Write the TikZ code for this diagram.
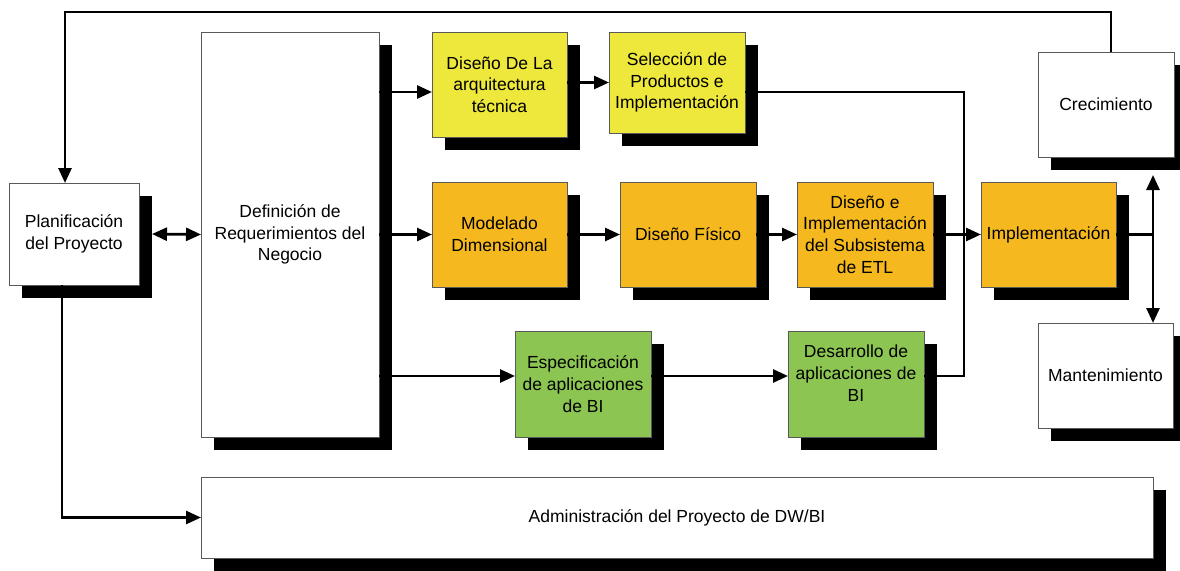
\documentclass[tikz,border=0pt]{standalone}
\usepackage{fontspec}
\setmainfont{Liberation Sans}
\usetikzlibrary{arrows.meta,shadows}
\definecolor{cyel}{RGB}{237,232,59}
\definecolor{corg}{RGB}{245,185,31}
\definecolor{cgrn}{RGB}{140,197,82}
\tikzset{
  box/.style={draw=black!65, line width=0.8pt, inner sep=0pt, outer sep=0pt,
    align=center, font=\fontsize{17.5}{21.7}\selectfont,
    drop shadow={shadow xshift=13pt, shadow yshift=-13pt, fill=black, opacity=1}},
  conn/.style={line width=2.7pt, black, >={Triangle[length=15pt,width=13pt]}},
}
\begin{document}
\begin{tikzpicture}[x=1pt,y=-1pt]
\useasboundingbox (0,0) rectangle (1180,570);
% boxes
\node[box, fill=white, minimum width=130pt, minimum height=102pt] (pla) at (74,234) {Planificación\\del Proyecto};
\node[box, fill=white, minimum width=178pt, minimum height=405pt] (def) at (290,234.5) {Definición de\\Requerimientos del\\Negocio};
\node[box, fill=cyel, minimum width=135pt, minimum height=105pt] (arq) at (499.5,84.5) {Diseño De La\\arquitectura\\técnica};
\node[box, fill=cyel, minimum width=136pt, minimum height=101pt] (sel) at (677,82.5) {Selección de\\Productos e\\Implementación};
\node[box, fill=corg, minimum width=135pt, minimum height=105pt] (mod) at (499.5,234.5) {Modelado\\Dimensional};
\node[box, fill=corg, minimum width=136pt, minimum height=105pt] (fis) at (688,234.5) {Diseño Físico};
\node[box, fill=corg, minimum width=136pt, minimum height=105pt] (etl) at (865,234.5) {Diseño e\\Implementación\\del Subsistema\\de ETL};
\node[box, fill=corg, minimum width=135pt, minimum height=105pt] (imp) at (1048.5,234.5) {Implementación};
\node[box, fill=white, minimum width=136pt, minimum height=105pt] (cre) at (1106,104.5) {Crecimiento};
\node[box, fill=white, minimum width=135pt, minimum height=105pt] (man) at (1105.5,375.5) {Mantenimiento};
\node[box, fill=cgrn, minimum width=136pt, minimum height=106pt] (esp) at (583,384) {Especificación\\de aplicaciones\\de BI};
\node[box, fill=cgrn, minimum width=136pt, minimum height=106pt] (des) at (856,384) {Desarrollo de\\aplicaciones de\\BI\\\mbox{}};
\node[box, fill=white, minimum width=952pt, minimum height=81pt] (adm) at (677,517.5) {Administración del Proyecto de DW/BI};
% helper coordinates
\coordinate (a1) at ([yshift=-7.5pt]arq.west);
\coordinate (a3) at ([yshift=8pt]esp.west);
\coordinate (top) at (0,12);
\coordinate (pn) at ([xshift=-9pt]pla.north);
\coordinate (jn) at (964,376);
\coordinate (v) at (1153,234.5);
\coordinate (vt0) at (cre.south -| v);
\coordinate (vt) at ([yshift=-18pt]vt0);
% connectors
\draw[conn,->] ([xshift=5pt]cre.north) |- (top -| pn) -- (pn);
\draw[conn,->] ([xshift=-12pt]pla.south) |- (adm.west);
\draw[conn,<->] ([xshift=13pt]pla.east) -- (def.west);
\draw[conn,->] (def.east |- a1) -- (a1);
\draw[conn,->] (def.east |- mod.west) -- (mod.west);
\draw[conn,->] (def.east |- a3) -- (a3);
\draw[conn,->] (arq.east |- sel.west) -- (sel.west);
\draw[conn,->] (mod.east) -- (fis.west);
\draw[conn,->] (fis.east) -- (etl.west);
\draw[conn,->] (esp.east |- a3) -- (des.west |- a3);
\draw[conn] ([yshift=-9.5pt]sel.east) -| (jn) -- (des.east |- jn);
\draw[conn,->] (etl.east) -- (imp.west);
\draw[conn] (imp.east) -- (v);
\draw[conn,->] (v) -- (vt);
\draw[conn,->] (v) -- (man.north -| v);
\end{tikzpicture}
\end{document}
